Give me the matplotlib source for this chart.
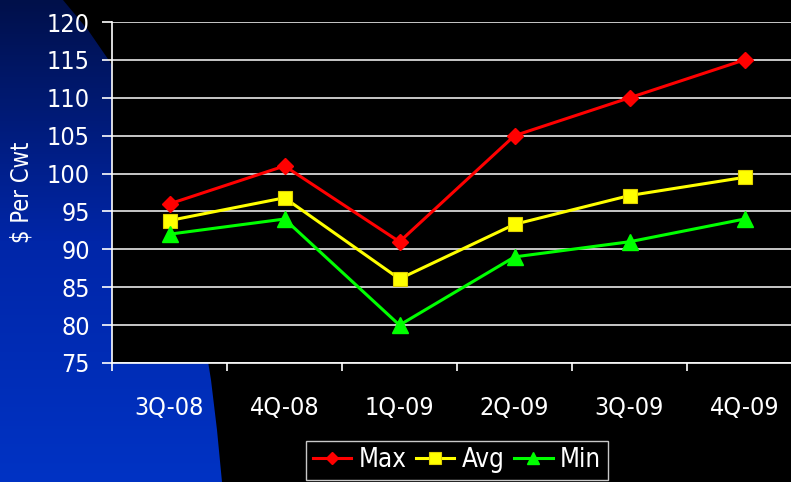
import matplotlib
matplotlib.use("Agg")
import matplotlib.pyplot as plt
import numpy as np
from matplotlib.path import Path
from matplotlib.patches import PathPatch
from matplotlib.colors import LinearSegmentedColormap
from matplotlib import font_manager

names = {f.name for f in font_manager.fontManager.ttflist}
if 'Liberation Sans Narrow' in names:
    plt.rcParams['font.family'] = ['Liberation Sans Narrow', 'DejaVu Sans']
else:
    plt.rcParams['font.family'] = ['DejaVu Sans']
    plt.rcParams['font.stretch'] = 'condensed'

categories = ["3Q-08", "4Q-08", "1Q-09", "2Q-09", "3Q-09", "4Q-09"]
max_vals = [96, 101, 91, 105, 110, 115]
avg_vals = [93.8, 96.8, 86.1, 93.3, 97.1, 99.5]
min_vals = [92, 94, 80, 89, 91, 94]
yticks = [75, 80, 85, 90, 95, 100, 105, 110, 115, 120]

W, H = 791, 482
fig = plt.figure(figsize=(W / 100, H / 100), dpi=100, facecolor='black')

# background blue swoosh with gradient
bg = fig.add_axes([0, 0, 1, 1], zorder=0)
bg.set_xlim(0, W)
bg.set_ylim(H, 0)
bg.axis('off')
grad = np.linspace(0, 1, 256).reshape(-1, 1)
cmap = LinearSegmentedColormap.from_list('b', ['#00104a', '#0026a8', '#0033c4'])
im = bg.imshow(grad, extent=[0, W, H, 0], aspect='auto', cmap=cmap, zorder=0)
pts = [(0, 0), (63, 0), (88, 30), (110, 62), (150, 150), (185, 250), (203, 330),
       (211, 380), (217, 430), (222, 482), (0, 482), (0, 0)]
clip = PathPatch(Path(pts), transform=bg.transData, facecolor='none', edgecolor='none')
bg.add_patch(clip)
im.set_clip_path(clip)

ax = fig.add_axes([112 / W, (H - 363) / H, 690 / W, 341 / H], zorder=1)
ax.set_facecolor('black')
x = np.arange(len(categories))

ax.plot(x, max_vals, color='#ff0000', lw=2.2, marker='D', ms=8, mfc='#ff0000', mec='#ff0000', label='Max', zorder=3)
ax.plot(x, avg_vals, color='#ffff00', lw=2.2, marker='s', ms=10.5, mfc='#ffff00', mec='#e0d000', mew=0.8, label='Avg', zorder=3)
ax.plot(x, min_vals, color='#00ff00', lw=2.2, marker='^', ms=11.5, mfc='#00ff00', mec='#00ff00', label='Min', zorder=3)

ax.set_xlim(-0.5, len(categories) - 0.5)
ax.set_ylim(75, 120)
ax.set_yticks(yticks)
ax.set_yticklabels([str(v) for v in yticks])
ax.set_xticks(x)
ax.set_xticklabels(categories)
ax.set_xticks(np.arange(-0.5, len(categories), 1.0), minor=True)

ax.yaxis.grid(True, color='#e8e8e8', lw=1.2, zorder=1)
ax.set_axisbelow(True)

for s in ['top', 'right']:
    ax.spines[s].set_visible(False)
for s in ['left', 'bottom']:
    ax.spines[s].set_color('white')
    ax.spines[s].set_linewidth(1.2)

ax.tick_params(axis='y', colors='white', labelsize=18, length=7, width=1.2, pad=9, direction='out')
ax.tick_params(axis='x', which='major', colors='white', labelsize=18, length=0, pad=24)
ax.tick_params(axis='x', which='minor', colors='white', length=6, width=1.2, direction='out')

ax.set_ylabel('$ Per Cwt', color='white', fontsize=17)
ax.yaxis.set_label_coords(-0.114, 0.5)

leg = fig.legend(loc='upper center', bbox_to_anchor=(457 / W, 1 - 441 / H), ncol=3,
                 fontsize=18.5, frameon=True, fancybox=False, facecolor='black',
                 edgecolor='#c8c8c8', framealpha=1, handlelength=1.5, handletextpad=0.3,
                 columnspacing=0.35, borderpad=0.25, markerscale=0.8, borderaxespad=0)
leg.get_frame().set_linewidth(1.0)
for t in leg.get_texts():
    t.set_color('white')

fig.savefig('out.png', dpi=100, facecolor='black')
